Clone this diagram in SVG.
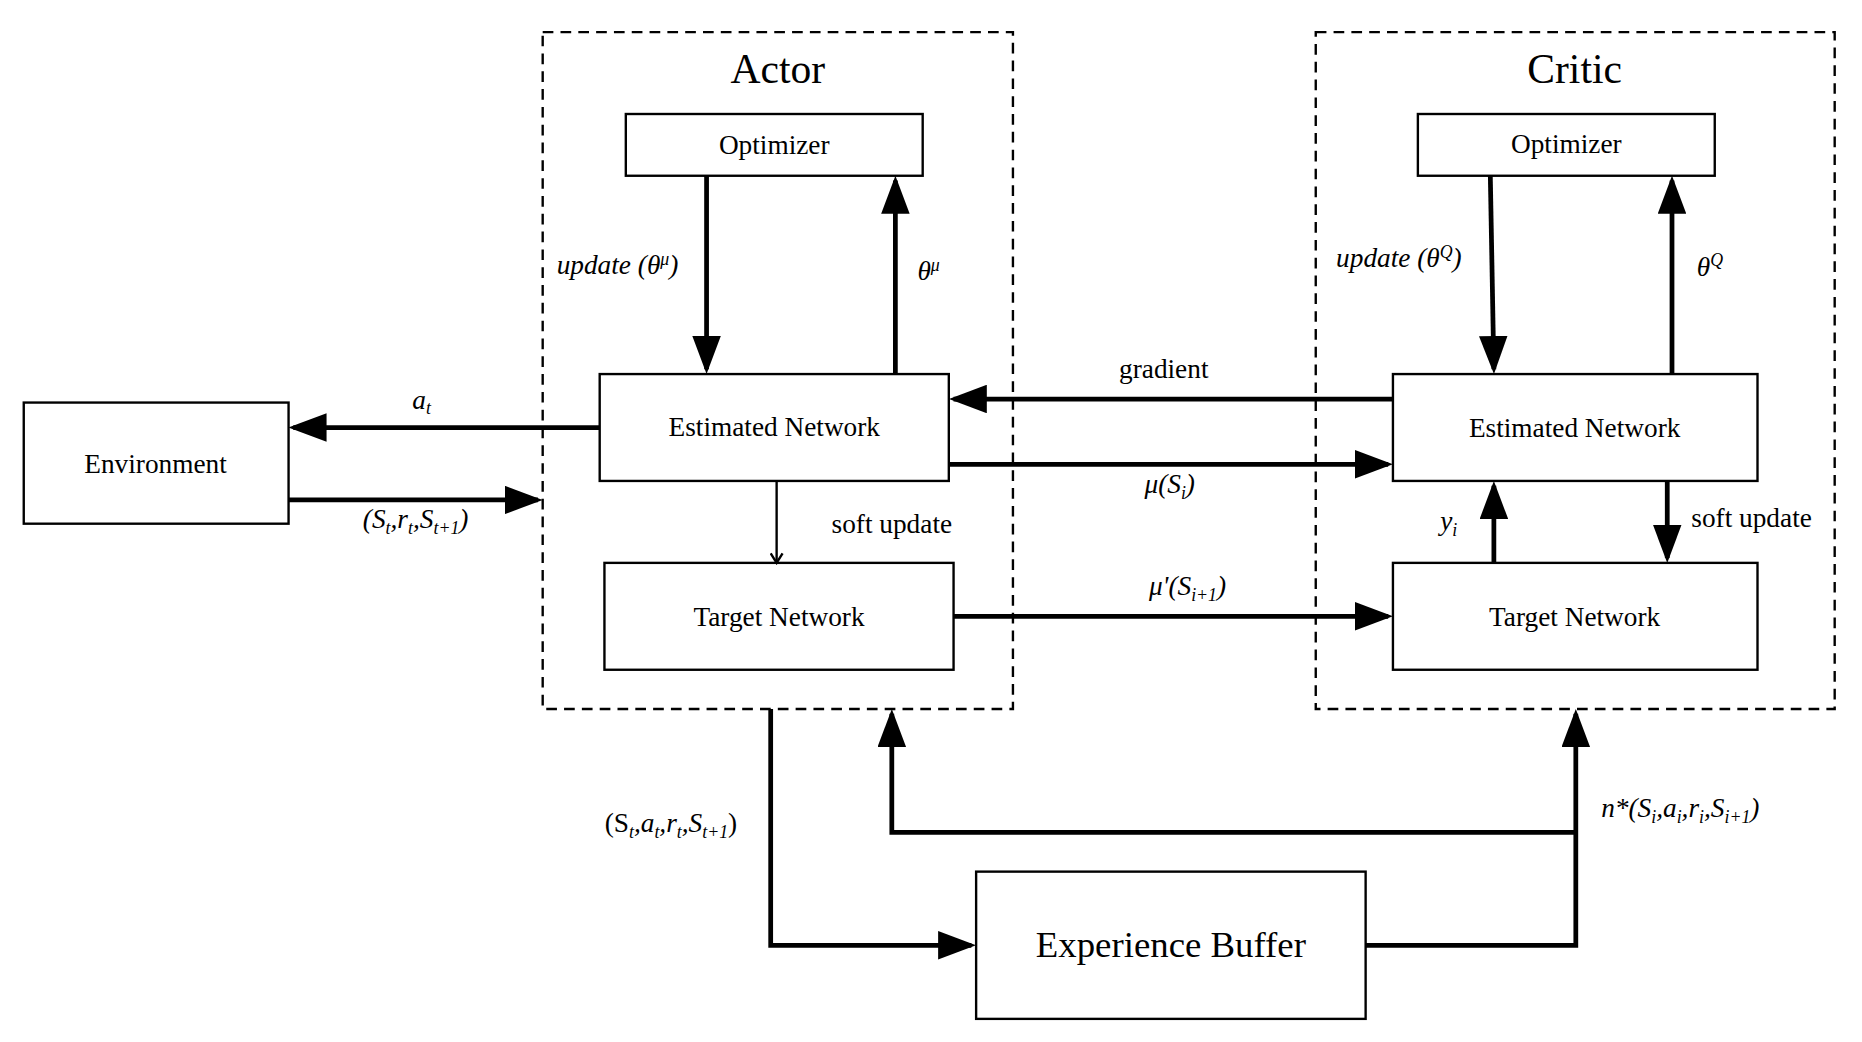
<svg xmlns="http://www.w3.org/2000/svg" width="1862" height="1042" viewBox="0 0 1862 1042">
<defs>
<marker id="ah" markerWidth="8" markerHeight="6" refX="7" refY="3" orient="auto" markerUnits="strokeWidth"><path d="M0,0 L8,3 L0,6 z" fill="#000"/></marker>
<marker id="oa" markerWidth="12" markerHeight="12" refX="10" refY="6" orient="auto" markerUnits="userSpaceOnUse"><path d="M2,1 L10,6 L2,11" fill="none" stroke="#000" stroke-width="2"/></marker>
</defs>
<style>
.b{fill:#fff;stroke:#000;stroke-width:2}
.d{fill:none;stroke:#000;stroke-width:2;stroke-dasharray:9,6}
.t{font-family:"Liberation Serif",serif;font-size:23px;text-anchor:middle;fill:#000}
.i{font-style:italic}
.c{fill:none;stroke:#000;stroke-width:4;marker-end:url(#ah)}
</style>
<rect width="1862" height="1042" fill="#fff"/>
<g transform="scale(1.1875)">
<g id="actor"><rect class="d" x="457" y="27" width="396" height="570"/><text class="t" x="655" y="70" style="font-size:35px">Actor</text></g>
<g id="critic"><rect class="d" x="1108" y="27" width="437" height="570"/><text class="t" x="1326" y="70" style="font-size:35px">Critic</text></g>
<g id="actor-opt"><rect class="b" x="527" y="96" width="250" height="52"/><text class="t" x="652" y="130">Optimizer</text></g>
<g id="critic-opt"><rect class="b" x="1194" y="96" width="250" height="52"/><text class="t" x="1319" y="129">Optimizer</text></g>
<g id="actor-est"><rect class="b" x="505" y="315" width="294" height="90"/><text class="t" x="652" y="367">Estimated Network</text></g>
<g id="actor-tgt"><rect class="b" x="509" y="474" width="294" height="90"/><text class="t" x="656" y="527">Target Network</text></g>
<g id="critic-est"><rect class="b" x="1173" y="315" width="307" height="90"/><text class="t" x="1326" y="368">Estimated Network</text></g>
<g id="critic-tgt"><rect class="b" x="1173" y="474" width="307" height="90"/><text class="t" x="1326" y="527">Target Network</text></g>
<g id="env"><rect class="b" x="20" y="339" width="223" height="102"/><text class="t" x="131" y="398">Environment</text></g>
<g id="buffer"><rect class="b" x="822" y="734" width="328" height="124"/><text class="t" x="986" y="806" style="font-size:31px">Experience Buffer</text></g>
<g id="connectors">
<line class="c" x1="595" y1="148" x2="595" y2="311"/>
<line class="c" x1="754" y1="315" x2="754" y2="152"/>
<line class="c" x1="1255" y1="148" x2="1258" y2="311"/>
<line class="c" x1="1408" y1="315" x2="1408" y2="152"/>
<line class="c" x1="505" y1="360" x2="247" y2="360"/>
<line class="c" x1="243" y1="421" x2="453" y2="421"/>
<line class="c" x1="1173" y1="336" x2="803" y2="336"/>
<line class="c" x1="799" y1="391" x2="1169" y2="391"/>
<line x1="654" y1="405" x2="654" y2="474" stroke="#000" stroke-width="2" marker-end="url(#oa)"/>
<line class="c" x1="803" y1="519" x2="1169" y2="519"/>
<line class="c" x1="1258" y1="474" x2="1258" y2="409"/>
<line class="c" x1="1404" y1="405" x2="1404" y2="470"/>
<polyline class="c" points="649,597 649,796 818,796"/>
<polyline class="c" points="1150,796 1327,796 1327,601"/>
<polyline class="c" points="1327,701 751,701 751,601"/>
</g>
<g id="labels">
<text class="t i" x="520" y="231">update (θ<tspan dy="-8" font-size="15">μ</tspan><tspan dy="8">)</tspan></text>
<text class="t i" x="782" y="236">θ<tspan dy="-8" font-size="15">μ</tspan></text>
<text class="t i" x="1178" y="225">update (θ<tspan dy="-8" font-size="15">Q</tspan><tspan dy="8">)</tspan></text>
<text class="t i" x="1440" y="232">θ<tspan dy="-8" font-size="15">Q</tspan></text>
<text class="t i" x="355" y="344">a<tspan dy="5" font-size="15">t</tspan></text>
<text class="t i" x="350" y="445">(S<tspan dy="5" font-size="15">t</tspan><tspan dy="-5">,r</tspan><tspan dy="5" font-size="15">t</tspan><tspan dy="-5">,S</tspan><tspan dy="5" font-size="15">t+1</tspan><tspan dy="-5">)</tspan></text>
<text class="t" x="980" y="318">gradient</text>
<text class="t i" x="985" y="415">μ(S<tspan dy="5" font-size="15">i</tspan><tspan dy="-5">)</tspan></text>
<text class="t" x="751" y="449">soft update</text>
<text class="t i" x="1000" y="501">μ'(S<tspan dy="5" font-size="15">i+1</tspan><tspan dy="-5">)</tspan></text>
<text class="t i" x="1220" y="446">y<tspan dy="5" font-size="15">i</tspan></text>
<text class="t" x="1475" y="444">soft update</text>
<text class="t" x="565" y="701">(S<tspan dy="5" font-size="15" font-style="italic">t</tspan><tspan dy="-5" font-style="italic">,a</tspan><tspan dy="5" font-size="15" font-style="italic">t</tspan><tspan dy="-5" font-style="italic">,r</tspan><tspan dy="5" font-size="15" font-style="italic">t</tspan><tspan dy="-5" font-style="italic">,S</tspan><tspan dy="5" font-size="15" font-style="italic">t+1</tspan><tspan dy="-5">)</tspan></text>
<text class="t i" x="1415" y="688">n*(S<tspan dy="5" font-size="15">i</tspan><tspan dy="-5">,a</tspan><tspan dy="5" font-size="15">i</tspan><tspan dy="-5">,r</tspan><tspan dy="5" font-size="15">i</tspan><tspan dy="-5">,S</tspan><tspan dy="5" font-size="15">i+1</tspan><tspan dy="-5">)</tspan></text>
</g>
</g>
</svg>
